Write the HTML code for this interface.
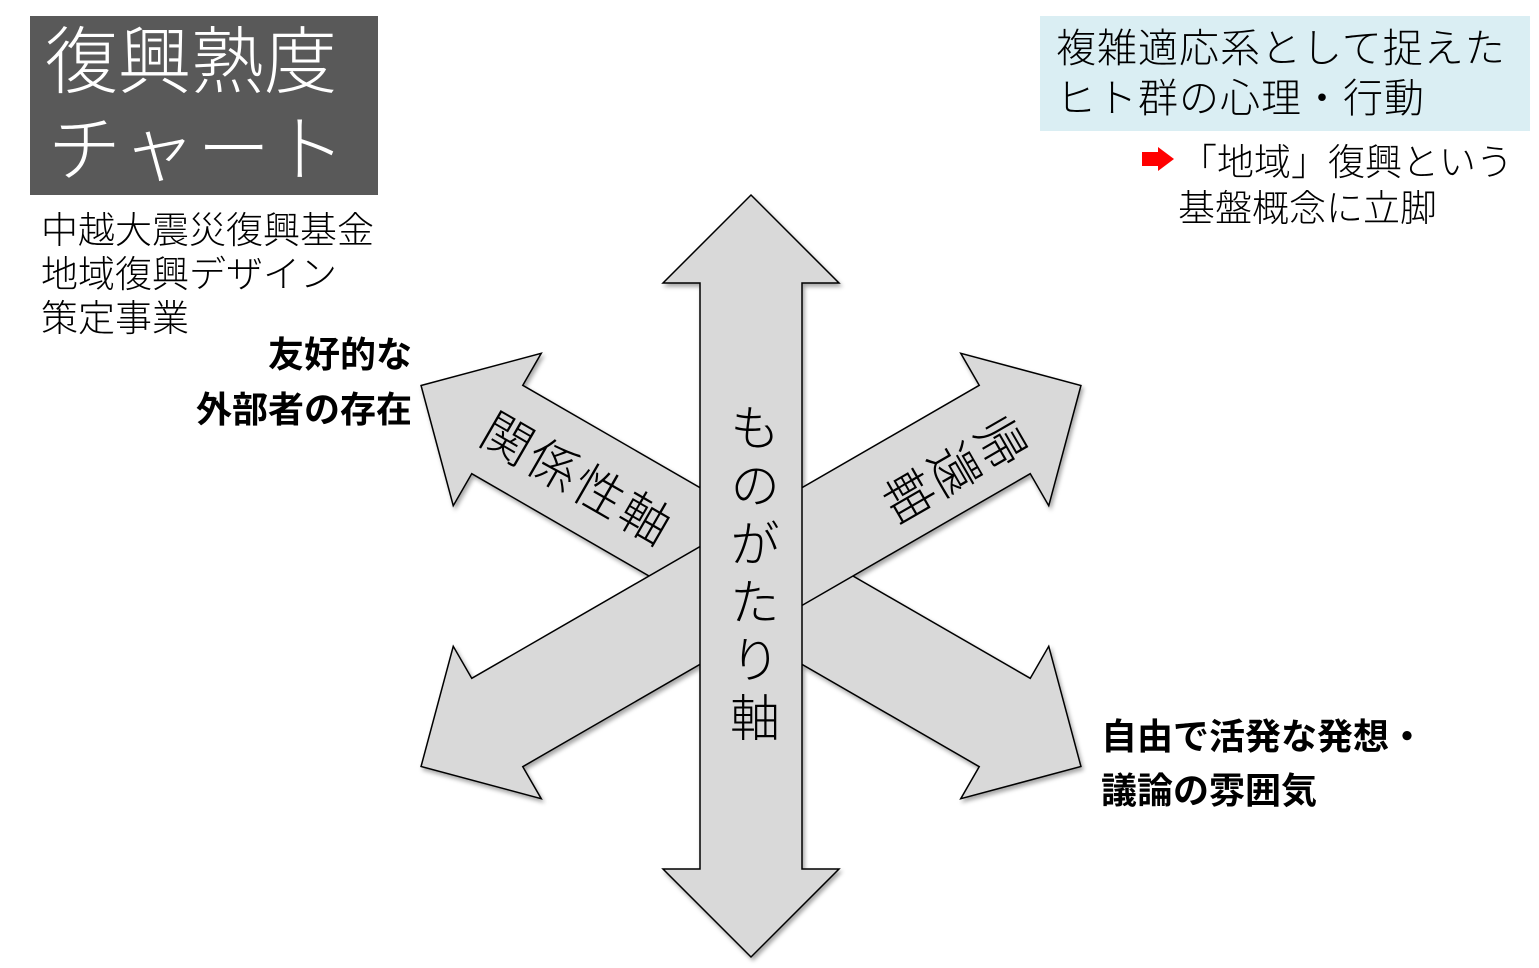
<!DOCTYPE html>
<html><head><meta charset="utf-8"><style>
body{margin:0;width:1539px;height:968px;background:#fff;position:relative;overflow:hidden;font-family:"Liberation Sans","Noto Sans CJK JP",sans-serif;color:#000}
.a{position:absolute;white-space:nowrap;line-height:1}
</style></head><body>
<div class="a" style="left:30px;top:16px;width:348px;height:179px;background:#595959"></div>
<div class="a" style="left:45px;top:26px;font-size:73px;color:#fff;font-weight:300">復興熟度</div>
<div class="a" style="left:48px;top:114px;font-size:73px;color:#fff;letter-spacing:2px;font-weight:300">チャート</div>
<div class="a" style="left:41px;top:209px;font-size:37px;line-height:44px;font-weight:300">中越大震災復興基金<br>地域復興デザイン<br>策定事業</div>
<div class="a" style="left:1040px;top:16px;width:490px;height:115px;background:#DAEEF3"></div>
<div class="a" style="left:1056px;top:24px;font-size:40px;line-height:50px;letter-spacing:1px;font-weight:300">複雑適応系として捉えた<br>ヒト群の心理・行動</div>
<div class="a" style="left:1142px;top:152px;width:20px;height:14px;background:#f00"></div>
<svg class="a" style="left:1158px;top:147px" width="18" height="24"><polygon points="0,0 16,12 0,24" fill="#f00"/></svg>
<div class="a" style="left:1180px;top:140px;font-size:37px;line-height:46px;font-weight:300">「地域」復興という</div>
<div class="a" style="left:1178px;top:186px;font-size:37px;line-height:46px;font-weight:300">基盤概念に立脚</div>
<div class="a" style="right:1127px;top:337px;font-size:36px;font-weight:bold">友好的な</div>
<div class="a" style="right:1127px;top:392px;font-size:36px;font-weight:bold">外部者の存在</div>
<div class="a" style="left:1101px;top:710px;font-size:36px;font-weight:bold;line-height:54px">自由で活発な発想・<br>議論の雰囲気</div>
<svg class="a" style="left:0;top:0" width="1539" height="968">
<defs>
<polygon id="ar" points="0,-381 88,-293 51,-293 51,293 88,293 0,381 -88,293 -51,293 -51,-293 -88,-293"/>
<filter id="sh"><feDropShadow dx="2" dy="3" stdDeviation="2" flood-opacity="0.35"/></filter>
</defs>
<g transform="translate(751,576)" fill="#d9d9d9" stroke="#000" stroke-width="1.5" filter="url(#sh)">
<use href="#ar" transform="rotate(-60)"/>
<use href="#ar" transform="rotate(60)"/>
<use href="#ar"/>
</g>
</svg>
<div class="a" style="left:751px;top:576px;transform:translate(-50%,-50%);writing-mode:vertical-rl;font-size:50px;letter-spacing:8px;font-weight:300">ものがたり軸</div>
<div class="a" style="left:577px;top:480px;transform:translate(-50%,-50%) rotate(30deg);font-size:50px;letter-spacing:3px;font-weight:300">関係性軸</div>
<div class="a" style="left:952px;top:466px;transform:translate(-50%,-50%) rotate(60deg);writing-mode:vertical-rl;font-size:50px;letter-spacing:3px;font-weight:300">帰還軸</div>
</body></html>
